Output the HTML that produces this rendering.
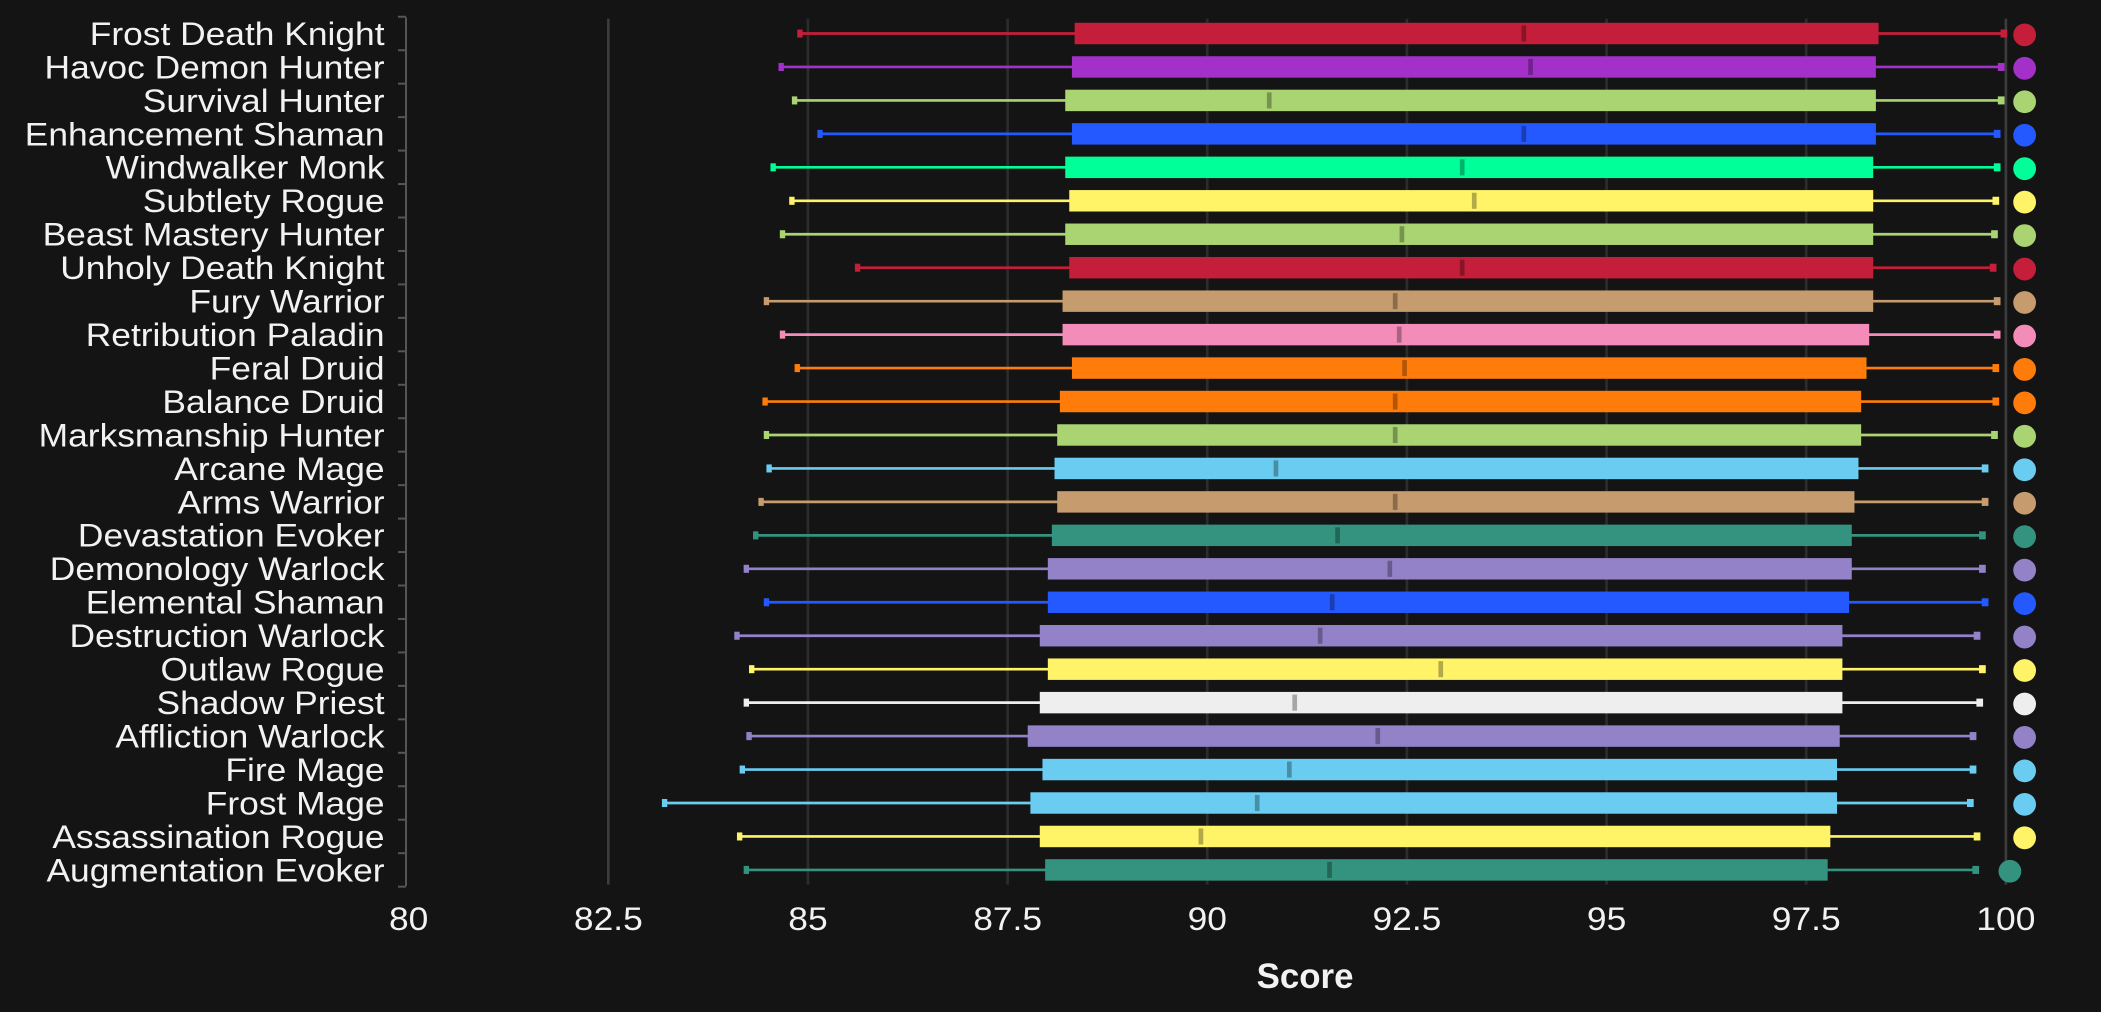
<!DOCTYPE html>
<html><head><meta charset="utf-8"><style>
html,body{margin:0;padding:0;background:#141414;}
svg{display:block}
text{font-family:"Liberation Sans",sans-serif;fill:#f2f2f2}
</style></head><body>
<svg width="2101" height="1012" viewBox="0 0 1568 755" preserveAspectRatio="none" xmlns="http://www.w3.org/2000/svg">
<rect width="1568" height="755" fill="#141414"/>
<g id="grid"></g>
<g id="rows"></g>
<g id="axis"></g>
<text x="974" y="737" text-anchor="middle" font-size="26" font-weight="bold">Score</text>
<script>
const NS="http://www.w3.org/2000/svg";
function el(p,t,a,txt){const e=document.createElementNS(NS,t);for(const k in a)e.setAttribute(k,a[k]);if(txt!==undefined)e.textContent=txt;p.appendChild(e);return e;}
const X=v=>305+(v-80)*59.6;
const grid=document.getElementById('grid'),rows=document.getElementById('rows'),axis=document.getElementById('axis');
[82.5,85,87.5,90,92.5,95,97.5,100].forEach(v=>{el(grid,'line',{x1:X(v),x2:X(v),y1:14,y2:660,stroke:v==82.5||v==100?'#3c3c3c':'#2c2c2c','stroke-width':2});});
[80,82.5,85,87.5,90,92.5,95,97.5,100].forEach(v=>{const x=X(v);el(axis,'text',{x:x,y:694,'text-anchor':'middle','font-size':24,transform:`translate(${x},0) scale(1.1,1) translate(${-x},0)`},String(v));});
el(axis,'line',{x1:303,x2:303,y1:13,y2:661,stroke:'#555','stroke-width':1.5});
const D=[
["Frost Death Knight",596,802,1137,1402,1496,"#c41e3a"],
["Havoc Demon Hunter",582,800,1142,1400,1494,"#a330c9"],
["Survival Hunter",592,795,947,1400,1494,"#aad372"],
["Enhancement Shaman",611,800,1137,1400,1491,"#2459ff"],
["Windwalker Monk",576,795,1091,1398,1491,"#00ff98"],
["Subtlety Rogue",590,798,1100,1398,1490,"#fff468"],
["Beast Mastery Hunter",583,795,1046,1398,1489,"#aad372"],
["Unholy Death Knight",639,798,1091,1398,1488,"#c41e3a"],
["Fury Warrior",571,793,1041,1398,1491,"#c69b6d"],
["Retribution Paladin",583,793,1044,1395,1491,"#f48cba"],
["Feral Druid",594,800,1048,1393,1490,"#ff7c0a"],
["Balance Druid",570,791,1041,1389,1490,"#ff7c0a"],
["Marksmanship Hunter",571,789,1041,1389,1489,"#aad372"],
["Arcane Mage",573,787,952,1387,1482,"#69ccf0"],
["Arms Warrior",567,789,1041,1384,1482,"#c69b6d"],
["Devastation Evoker",563,785,998,1382,1480,"#33937f"],
["Demonology Warlock",556,782,1037,1382,1480,"#9482c9"],
["Elemental Shaman",571,782,994,1380,1482,"#2459ff"],
["Destruction Warlock",549,776,985,1375,1476,"#9482c9"],
["Outlaw Rogue",560,782,1075,1375,1480,"#fff468"],
["Shadow Priest",556,776,966,1375,1478,"#eeeeee"],
["Affliction Warlock",558,767,1028,1373,1473,"#9482c9"],
["Fire Mage",553,778,962,1371,1473,"#69ccf0"],
["Frost Mage",495,769,938,1371,1471,"#69ccf0"],
["Assassination Rogue",551,776,896,1366,1476,"#fff468"],
["Augmentation Evoker",556,780,992,1364,1475,"#33937f"]];
D.forEach((d,i)=>{
 const y=25+i*24.96;
 el(axis,'line',{x1:297,x2:303,y1:y-12.5,y2:y-12.5,stroke:'#555','stroke-width':1.5});
 if(i==25)el(axis,'line',{x1:297,x2:303,y1:y+12.5,y2:y+12.5,stroke:'#555','stroke-width':1.5});
 el(axis,'text',{x:287,y:y+8.5,'text-anchor':'end','font-size':24,transform:'translate(287,0) scale(1.1,1) translate(-287,0)'},d[0]);
 const c=d[6];
 el(rows,'line',{x1:d[1],x2:d[5],y1:y,y2:y,stroke:c,'stroke-width':2});
 el(rows,'rect',{x:d[1]-1,y:y-3,width:4,height:6,fill:c});
 el(rows,'rect',{x:d[5]-3,y:y-3,width:5,height:6,fill:c});
 el(rows,'rect',{x:d[2],y:y-8,width:d[4]-d[2],height:16,fill:c});
 el(rows,'rect',{x:d[3]-1.5,y:y-6,width:3.5,height:12,fill:'#000','fill-opacity':0.3});
 el(rows,'circle',{cx:i==25?1500:1511,cy:y+1,r:8.5,fill:c});
});
</script>
</svg>
</body></html>
